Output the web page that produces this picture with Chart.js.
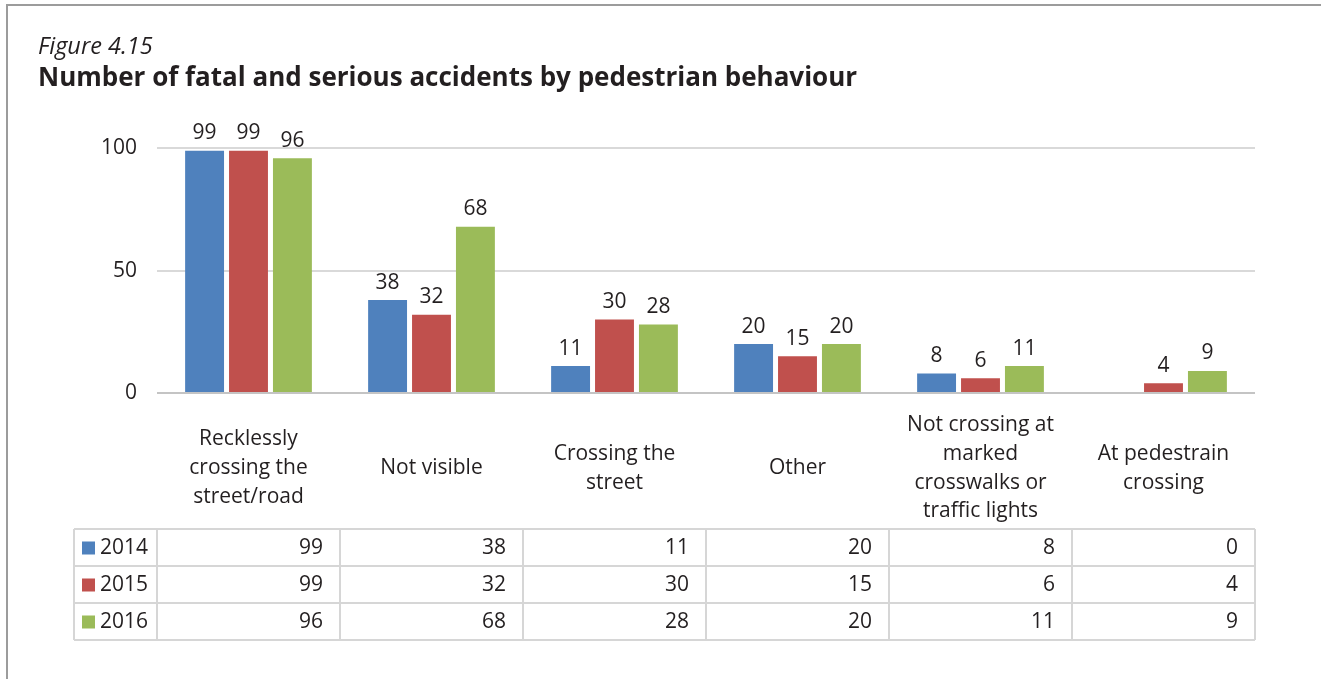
<!DOCTYPE html>
<html>
<head>
<meta charset="utf-8">
<script src="https://cdn.jsdelivr.net/npm/chart.js@4.4.1/dist/chart.umd.min.js"></script>
<style>
html, body { margin: 0; padding: 0; background: #fff; }
#wrap { position: relative; width: 1321px; height: 679px; overflow: hidden; }
#frame { position: absolute; left: 6px; top: 4px; right: -10px; bottom: -10px;
         border-left: 2px solid #9c9c9c; border-top: 2px solid #9c9c9c; }
canvas { position: absolute; left: 0; top: 0; }
</style>
</head>
<body>
<div id="wrap">
  <div id="frame"></div>
  <canvas id="chart" width="1321" height="679"></canvas>
</div>
<script>
const categories = [
    ["Recklessly", "crossing the", "street/road"],
    ["Not visible"],
    ["Crossing the", "street"],
    ["Other"],
    ["Not crossing at", "marked", "crosswalks or", "traffic lights"],
    ["At pedestrain", "crossing"]
];
const years = ["2014", "2015", "2016"];
const values2014 = [99, 38, 11, 20, 8, 0];
const values2015 = [99, 32, 30, 15, 6, 4];
const values2016 = [96, 68, 28, 20, 11, 9];
const yTickValues = [0, 50, 100];

const colors = ['#4F81BD', '#C0504D', '#9BBB59'];
const FONT = "'Open Sans', sans-serif";
const TEXT = '#231f20';

// values above bars
const barLabels = {
    id: 'barLabels',
    afterDatasetsDraw(chart) {
        const ctx = chart.ctx;
        ctx.save();
        ctx.font = '21px ' + FONT;
        ctx.fillStyle = TEXT;
        ctx.textAlign = 'center';
        ctx.textBaseline = 'bottom';
        chart.data.datasets.forEach((ds, i) => {
            chart.getDatasetMeta(i).data.forEach((bar, j) => {
                if (ds.data[j] > 0) ctx.fillText(ds.data[j], bar.x, bar.y - 7);
            });
        });
        ctx.restore();
    }
};

// data table under the axis labels
const dataTable = {
    id: 'dataTable',
    afterDraw(chart) {
        const ctx = chart.ctx;
        const x = chart.scales.x;
        const area = chart.chartArea;
        const top = x.bottom;
        const rowH = 37;
        const left = area.left - 83;
        const half = (x.getPixelForValue(1) - x.getPixelForValue(0)) / 2;
        ctx.save();
        ctx.strokeStyle = '#d6d6d6';
        ctx.lineWidth = 2;
        ctx.beginPath();
        for (let r = 0; r <= years.length; r++) {
            ctx.moveTo(left, top + r * rowH);
            ctx.lineTo(area.right, top + r * rowH);
        }
        const bottom = top + years.length * rowH;
        ctx.moveTo(left, top); ctx.lineTo(left, bottom);
        ctx.moveTo(area.left, top); ctx.lineTo(area.left, bottom);
        categories.forEach((c, i) => {
            const xr = x.getPixelForValue(i) + half;
            ctx.moveTo(xr, top); ctx.lineTo(xr, bottom);
        });
        ctx.stroke();

        ctx.font = '21px ' + FONT;
        ctx.fillStyle = TEXT;
        ctx.textBaseline = 'middle';
        chart.data.datasets.forEach((ds, r) => {
            const cy = top + r * rowH + rowH / 2;
            ctx.fillStyle = ds.backgroundColor;
            ctx.fillRect(left + 8, cy - 6, 13, 13);
            ctx.fillStyle = TEXT;
            ctx.textAlign = 'left';
            ctx.fillText(ds.label, left + 26, cy + 1);
            ctx.textAlign = 'right';
            ds.data.forEach((v, j) => {
                ctx.fillText(v, x.getPixelForValue(j) + half - 17, cy + 1);
            });
        });
        ctx.restore();
    }
};

const ctx = document.getElementById('chart').getContext('2d');
const chart = new Chart(ctx, {
    type: 'bar',
    data: {
        labels: categories,
        datasets: [
            { label: years[0], data: values2014, backgroundColor: colors[0] },
            { label: years[1], data: values2015, backgroundColor: colors[1] },
            { label: years[2], data: values2016, backgroundColor: colors[2] }
        ]
    },
    options: {
        responsive: false,
        animation: false,
        devicePixelRatio: 1,
        categoryPercentage: 0.72,
        barPercentage: 0.886,
        layout: { padding: { left: 38, right: 66, top: 33, bottom: 150 } },
        plugins: {
            legend: { display: false },
            tooltip: { enabled: false },
            title: {
                display: true,
                text: 'Figure 4.15',
                align: 'start',
                color: TEXT,
                font: { family: FONT, size: 23.5, style: 'italic', weight: 'normal', lineHeight: 1.2 },
                padding: { top: 0, bottom: 2 }
            },
            subtitle: {
                display: true,
                text: 'Number of fatal and serious accidents by pedestrian behaviour',
                align: 'start',
                color: TEXT,
                font: { family: FONT, size: 26, weight: 'bold', lineHeight: 1.2 },
                padding: { top: 0, bottom: 54 }
            }
        },
        scales: {
            x: {
                afterFit(scale) { scale.height = 136; },
                grid: { display: false, drawTicks: false },
                border: { display: false },
                ticks: {
                    color: TEXT,
                    font: { family: FONT, size: 21, lineHeight: 1.37 },
                    crossAlign: 'center',
                    padding: 32,
                    maxRotation: 0,
                    autoSkip: false
                }
            },
            y: {
                min: 0,
                max: 100,
                afterFit(scale) { scale.width = 119; },
                afterBuildTicks(scale) { scale.ticks = yTickValues.map(v => ({ value: v })); },
                grid: {
                    drawTicks: false,
                    lineWidth: 2,
                    color: c => c.tick && c.tick.value === 0 ? '#c4c4c4' : '#d9d9d9'
                },
                border: { display: false },
                ticks: {
                    color: TEXT,
                    font: { family: FONT, size: 21 },
                    padding: 20
                }
            }
        }
    },
    plugins: [barLabels, dataTable]
});
</script>
</body>
</html>
